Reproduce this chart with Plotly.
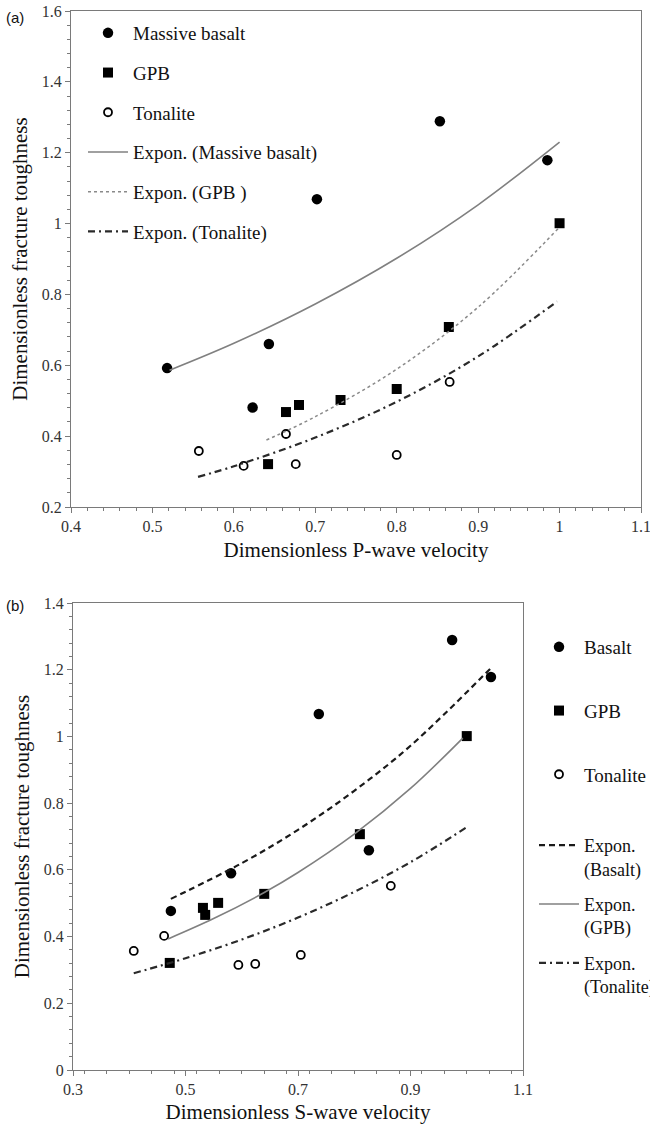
import plotly.graph_objects as go

# ---------- Panel (a): P-wave ----------
a_basalt_x = [0.518, 0.623, 0.643, 0.702, 0.853, 0.985]
a_basalt_y = [0.592, 0.481, 0.660, 1.069, 1.289, 1.179]
a_gpb_x = [0.642, 0.664, 0.680, 0.731, 0.800, 0.864, 1.000]
a_gpb_y = [0.321, 0.468, 0.488, 0.502, 0.533, 0.708, 1.001]
a_ton_x = [0.557, 0.612, 0.664, 0.676, 0.800, 0.865]
a_ton_y = [0.358, 0.316, 0.406, 0.321, 0.347, 0.553]

a_fit_basalt_x = [0.521, 0.6, 0.7, 0.8, 0.9, 1.0]
a_fit_basalt_y = [0.586, 0.662, 0.773, 0.902, 1.053, 1.230]
a_fit_gpb_x = [0.640, 0.7, 0.8, 0.9, 1.0]
a_fit_gpb_y = [0.389, 0.455, 0.589, 0.764, 0.990]
a_fit_ton_x = [0.556, 0.6, 0.7, 0.8, 0.9, 0.997]
a_fit_ton_y = [0.285, 0.315, 0.396, 0.497, 0.625, 0.780]

# ---------- Panel (b): S-wave ----------
b_basalt_x = [0.474, 0.581, 0.737, 0.826, 0.974, 1.043]
b_basalt_y = [0.477, 0.590, 1.067, 0.659, 1.289, 1.178]
b_gpb_x = [0.472, 0.531, 0.535, 0.558, 0.640, 0.810, 1.000]
b_gpb_y = [0.321, 0.486, 0.465, 0.501, 0.528, 0.707, 1.001]
b_ton_x = [0.408, 0.462, 0.594, 0.624, 0.705, 0.865]
b_ton_y = [0.357, 0.402, 0.315, 0.318, 0.345, 0.552]

b_fit_basalt_x = [0.474, 0.6, 0.7, 0.8, 0.9, 1.043]
b_fit_basalt_y = [0.513, 0.620, 0.720, 0.837, 0.972, 1.205]
b_fit_gpb_x = [0.469, 0.55, 0.64, 0.7, 0.8, 0.9, 0.993]
b_fit_gpb_y = [0.393, 0.454, 0.532, 0.592, 0.707, 0.844, 0.995]
b_fit_ton_x = [0.408, 0.5, 0.6, 0.7, 0.8, 0.9, 1.0]
b_fit_ton_y = [0.290, 0.335, 0.391, 0.457, 0.534, 0.623, 0.728]

SERIF = "Liberation Serif, DejaVu Serif, serif"
W, H = 650, 1129

fig = go.Figure()

filled_circle = dict(symbol="circle", size=10.5, color="#000000", line=dict(width=0))
filled_square = dict(symbol="square", size=10, color="#000000", line=dict(width=0))
open_circle = dict(symbol="circle-open", size=8, color="#000000", line=dict(width=1.8))

# Panel (a) traces
fig.add_trace(go.Scatter(x=a_basalt_x, y=a_basalt_y, mode="markers", name="Massive basalt",
                         marker=filled_circle, xaxis="x", yaxis="y", legend="legend", legendgroup="a1"))
fig.add_trace(go.Scatter(x=a_gpb_x, y=a_gpb_y, mode="markers", name="GPB",
                         marker=filled_square, xaxis="x", yaxis="y", legend="legend", legendgroup="a2"))
fig.add_trace(go.Scatter(x=a_ton_x, y=a_ton_y, mode="markers", name="Tonalite",
                         marker=open_circle, xaxis="x", yaxis="y", legend="legend", legendgroup="a3"))
fig.add_trace(go.Scatter(x=a_fit_basalt_x, y=a_fit_basalt_y, mode="lines", name="Expon. (Massive basalt)",
                         line=dict(color="#808080", width=1.6, shape="spline"),
                         xaxis="x", yaxis="y", legend="legend", legendgroup="a4"))
fig.add_trace(go.Scatter(x=a_fit_gpb_x, y=a_fit_gpb_y, mode="lines", name="Expon. (GPB )",
                         line=dict(color="#8a8a8a", width=1.5, dash="dot", shape="spline"),
                         xaxis="x", yaxis="y", legend="legend", legendgroup="a5"))
fig.add_trace(go.Scatter(x=a_fit_ton_x, y=a_fit_ton_y, mode="lines", name="Expon. (Tonalite)",
                         line=dict(color="#2a2a2a", width=2.2, dash="7px,4px,2px,4px", shape="spline"),
                         xaxis="x", yaxis="y", legend="legend", legendgroup="a6"))

# Panel (b) traces
fig.add_trace(go.Scatter(x=b_basalt_x, y=b_basalt_y, mode="markers", name="Basalt",
                         marker=filled_circle, xaxis="x2", yaxis="y2", legend="legend2", legendgroup="b1"))
fig.add_trace(go.Scatter(x=b_gpb_x, y=b_gpb_y, mode="markers", name="GPB",
                         marker=filled_square, xaxis="x2", yaxis="y2", legend="legend2", legendgroup="b2"))
fig.add_trace(go.Scatter(x=b_ton_x, y=b_ton_y, mode="markers", name="Tonalite",
                         marker=open_circle, xaxis="x2", yaxis="y2", legend="legend2", legendgroup="b3"))
fig.add_trace(go.Scatter(x=b_fit_basalt_x, y=b_fit_basalt_y, mode="lines", name="Expon.<br>(Basalt)",
                         line=dict(color="#1a1a1a", width=2.2, dash="6px,4px", shape="spline"),
                         xaxis="x2", yaxis="y2", legend="legend3", legendgroup="b4"))
fig.add_trace(go.Scatter(x=b_fit_gpb_x, y=b_fit_gpb_y, mode="lines", name="Expon.<br>(GPB)",
                         line=dict(color="#808080", width=1.6, shape="spline"),
                         xaxis="x2", yaxis="y2", legend="legend3", legendgroup="b5"))
fig.add_trace(go.Scatter(x=b_fit_ton_x, y=b_fit_ton_y, mode="lines", name="Expon.<br>(Tonalite)",
                         line=dict(color="#2a2a2a", width=2.2, dash="7px,4px,2px,4px", shape="spline"),
                         xaxis="x2", yaxis="y2", legend="legend3", legendgroup="b6"))

axis_common = dict(
    showgrid=False, zeroline=False, showline=True, linecolor="#7a7a7a", linewidth=1.3,
    mirror=True, ticks="outside", ticklen=5, tickwidth=1.2, tickcolor="#7a7a7a",
    tickfont=dict(family=SERIF, size=16, color="#333333"),
    automargin=False, ticklabeloverflow="allow",
)
title_font = dict(family=SERIF, size=21, color="#111111")
minor_tick = dict(ticks="outside", ticklen=3, tickcolor="#7a7a7a")

def px_x(p):
    # p: target position in page pixels (page margin is reset to 0 below)
    return p / W

def px_y(p):
    return 1 - p / H

fig.update_layout(
    width=W, height=H,
    margin=dict(l=0, r=0, t=0, b=0, autoexpand=False),
    paper_bgcolor="white", plot_bgcolor="white",
    font=dict(family=SERIF, color="#111111"),
    xaxis=dict(axis_common, domain=[px_x(71), px_x(641)], anchor="y",
               range=[0.4, 1.1], tick0=0.4, dtick=0.1,
               minor=dict(minor_tick, dtick=0.02),
               title=dict(text="Dimensionless P-wave velocity", standoff=7, font=title_font)),
    yaxis=dict(axis_common, domain=[px_y(507), px_y(11)], anchor="x",
               range=[0.2, 1.6], tick0=0.2, dtick=0.2,
               minor=dict(minor_tick, dtick=0.04),
               title=dict(text="Dimensionless fracture toughness", standoff=8, font=title_font)),
    xaxis2=dict(axis_common, domain=[px_x(73), px_x(523)], anchor="y2",
                range=[0.3, 1.1], tick0=0.3, dtick=0.2,
                minor=dict(minor_tick, dtick=0.04),
                title=dict(text="Dimensionless S-wave velocity", standoff=6, font=title_font)),
    yaxis2=dict(axis_common, domain=[px_y(1070), px_y(603)], anchor="x2",
                range=[0.0, 1.4], tick0=0.0, dtick=0.2,
                minor=dict(minor_tick, dtick=0.04),
                title=dict(text="Dimensionless fracture toughness", standoff=8, font=title_font)),
    legend=dict(x=px_x(83), y=px_y(14), xanchor="left", yanchor="top",
                bgcolor="rgba(0,0,0,0)", borderwidth=0, itemwidth=40,
                tracegroupgap=12, font=dict(family=SERIF, size=19, color="#111111")),
    legend2=dict(x=px_x(534), y=px_y(628), xanchor="left", yanchor="top",
                 bgcolor="rgba(0,0,0,0)", borderwidth=0, itemwidth=40,
                 tracegroupgap=36, font=dict(family=SERIF, size=19, color="#111111")),
    legend3=dict(x=px_x(534), y=px_y(827), xanchor="left", yanchor="top", valign="top",
                 bgcolor="rgba(0,0,0,0)", borderwidth=0, itemwidth=40,
                 tracegroupgap=9, font=dict(family=SERIF, size=18, color="#111111")),
    annotations=[
        dict(text="(a)", x=px_x(4), y=px_y(17), xref="paper", yref="paper",
             xanchor="left", yanchor="middle", showarrow=False,
             font=dict(family="Liberation Sans", size=15, color="#111111")),
        dict(text="(b)", x=px_x(4), y=px_y(605), xref="paper", yref="paper",
             xanchor="left", yanchor="middle", showarrow=False,
             font=dict(family="Liberation Sans", size=15, color="#111111")),
    ],
)

fig.write_html("out.html", config={"displayModeBar": False},
               post_script="document.body.style.margin='0px';")
